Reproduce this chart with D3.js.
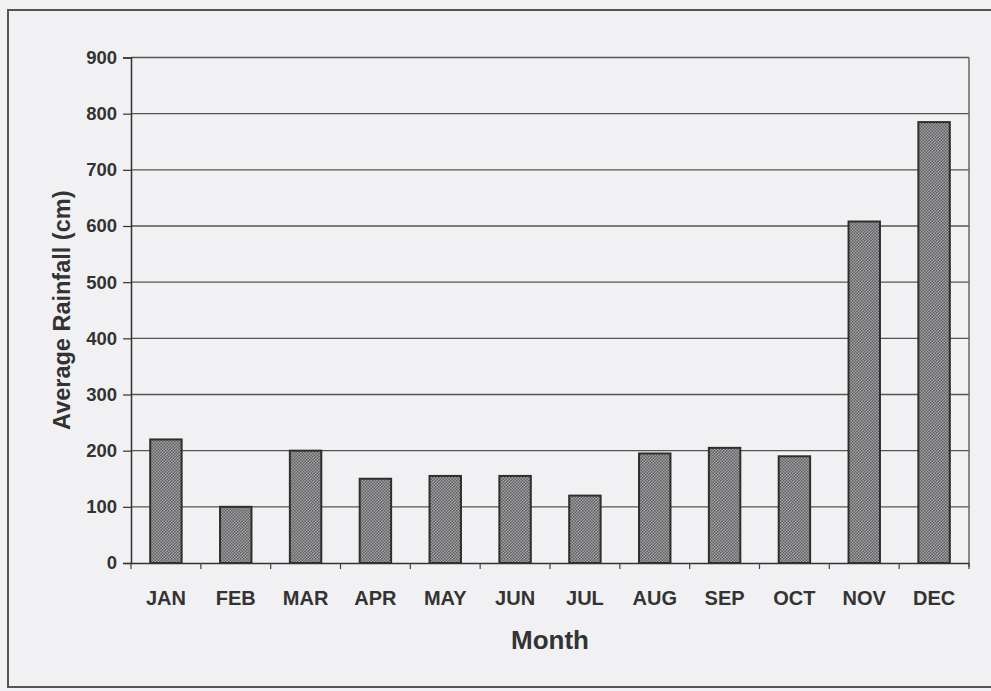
<!DOCTYPE html>
<html>
<head>
<meta charset="utf-8">
<script src="https://d3js.org/d3.v7.min.js"></script>
<style>
    body { margin: 0; background: #f1f1f3; }
    svg { display: block; }
    text { font-family: "Liberation Sans", Arial, sans-serif; font-weight: bold; fill: #333; }
</style>
</head>
<body>
<svg id="canvas"></svg>
<script>
"use strict"

// Chart data
const months = ["JAN", "FEB", "MAR", "APR", "MAY", "JUN", "JUL", "AUG", "SEP", "OCT", "NOV", "DEC"];
const rainfall = [220, 100, 200, 150, 155, 155, 120, 195, 205, 190, 608, 785];
const yTicks = [0, 100, 200, 300, 400, 500, 600, 700, 800, 900];

const canvasWidth = 991;
const canvasHeight = 691;

const chart = {
    marginLeft : 131,
    marginRight : 22,
    marginTop : 57.5,
    marginBottom : 128
};

const canvas = d3.select("#canvas")
    .attr("width", canvasWidth)
    .attr("height", canvasHeight);

// Hatch pattern for the bars
const pattern = canvas.append("defs").append("pattern")
    .attr("id", "hatch")
    .attr("width", 3)
    .attr("height", 3)
    .attr("patternUnits", "userSpaceOnUse");
pattern.append("rect").attr("width", 3).attr("height", 3).attr("fill", "#a4a4a6");
pattern.append("rect").attr("width", 1.5).attr("height", 1.5).attr("fill", "#5e5e60");
pattern.append("rect").attr("x", 1.5).attr("y", 1.5).attr("width", 1.5).attr("height", 1.5).attr("fill", "#5e5e60");

// Outer frame
canvas.append("rect")
    .attr("x", 8)
    .attr("y", 10)
    .attr("width", 1000)
    .attr("height", 677)
    .attr("fill", "none")
    .attr("stroke", "#555")
    .attr("stroke-width", 2);

// Scales
const x = d3.scaleBand()
    .domain(months)
    .range([chart.marginLeft, canvasWidth - chart.marginRight])
    .paddingInner(0.55)
    .paddingOuter(0.275);

const y = d3.scaleLinear()
    .domain([0, 900])
    .range([canvasHeight - chart.marginBottom, chart.marginTop]);

// Gridlines
canvas.append("g")
    .selectAll("line")
    .data(yTicks.filter(d => d > 0))
    .enter()
    .append("line")
    .attr("x1", chart.marginLeft)
    .attr("x2", canvasWidth - chart.marginRight)
    .attr("y1", d => y(d))
    .attr("y2", d => y(d))
    .attr("stroke", "#555")
    .attr("stroke-width", 1.3);

// Right border of the plot area
canvas.append("line")
    .attr("x1", canvasWidth - chart.marginRight)
    .attr("x2", canvasWidth - chart.marginRight)
    .attr("y1", y(900))
    .attr("y2", y(0) + 4)
    .attr("stroke", "#666")
    .attr("stroke-width", 1.5);

// Bars
canvas.append("g")
    .selectAll("rect")
    .data(rainfall)
    .enter()
    .append("rect")
    .attr("x", (d, i) => x(months[i]))
    .attr("y", d => y(d))
    .attr("width", x.bandwidth())
    .attr("height", d => y(0) - y(d))
    .attr("fill", "url(#hatch)")
    .attr("stroke", "#2e2e2e")
    .attr("stroke-width", 2);

// Y axis
const yAxis = canvas.append("g")
    .attr("transform", `translate(${chart.marginLeft},0)`)
    .call(d3.axisLeft(y).tickValues(yTicks).tickSize(8).tickPadding(6));
yAxis.select(".domain").attr("stroke", "#333").attr("stroke-width", 1.5);
yAxis.selectAll(".tick line").attr("stroke", "#333").attr("stroke-width", 1.2);
yAxis.selectAll("text").style("font-size", "18.5px").attr("fill", "#333");

// X axis
const xAxis = canvas.append("g")
    .attr("transform", `translate(0,${y(0)})`)
    .call(d3.axisBottom(x).tickSize(0).tickPadding(28));
xAxis.select(".domain").attr("stroke", "#333").attr("stroke-width", 1.5);
xAxis.selectAll("text").style("font-size", "20px").attr("fill", "#333");

// Category boundary ticks
xAxis.append("g")
    .selectAll("line")
    .data(d3.range(months.length + 1))
    .enter()
    .append("line")
    .attr("x1", i => chart.marginLeft + i * x.step())
    .attr("x2", i => chart.marginLeft + i * x.step())
    .attr("y1", 0)
    .attr("y2", 6)
    .attr("stroke", "#444")
    .attr("stroke-width", 1.2);

// Axis titles
canvas.append("text")
    .text("Average Rainfall (cm)")
    .attr("text-anchor", "middle")
    .style("font-size", "23.5px")
    .attr("transform", `translate(70,${(y(0) + y(900)) / 2}) rotate(-90)`);

canvas.append("text")
    .text("Month")
    .attr("text-anchor", "middle")
    .style("font-size", "26px")
    .attr("transform", `translate(${(x.range()[0] + x.range()[1]) / 2},649)`);
</script>
</body>
</html>
